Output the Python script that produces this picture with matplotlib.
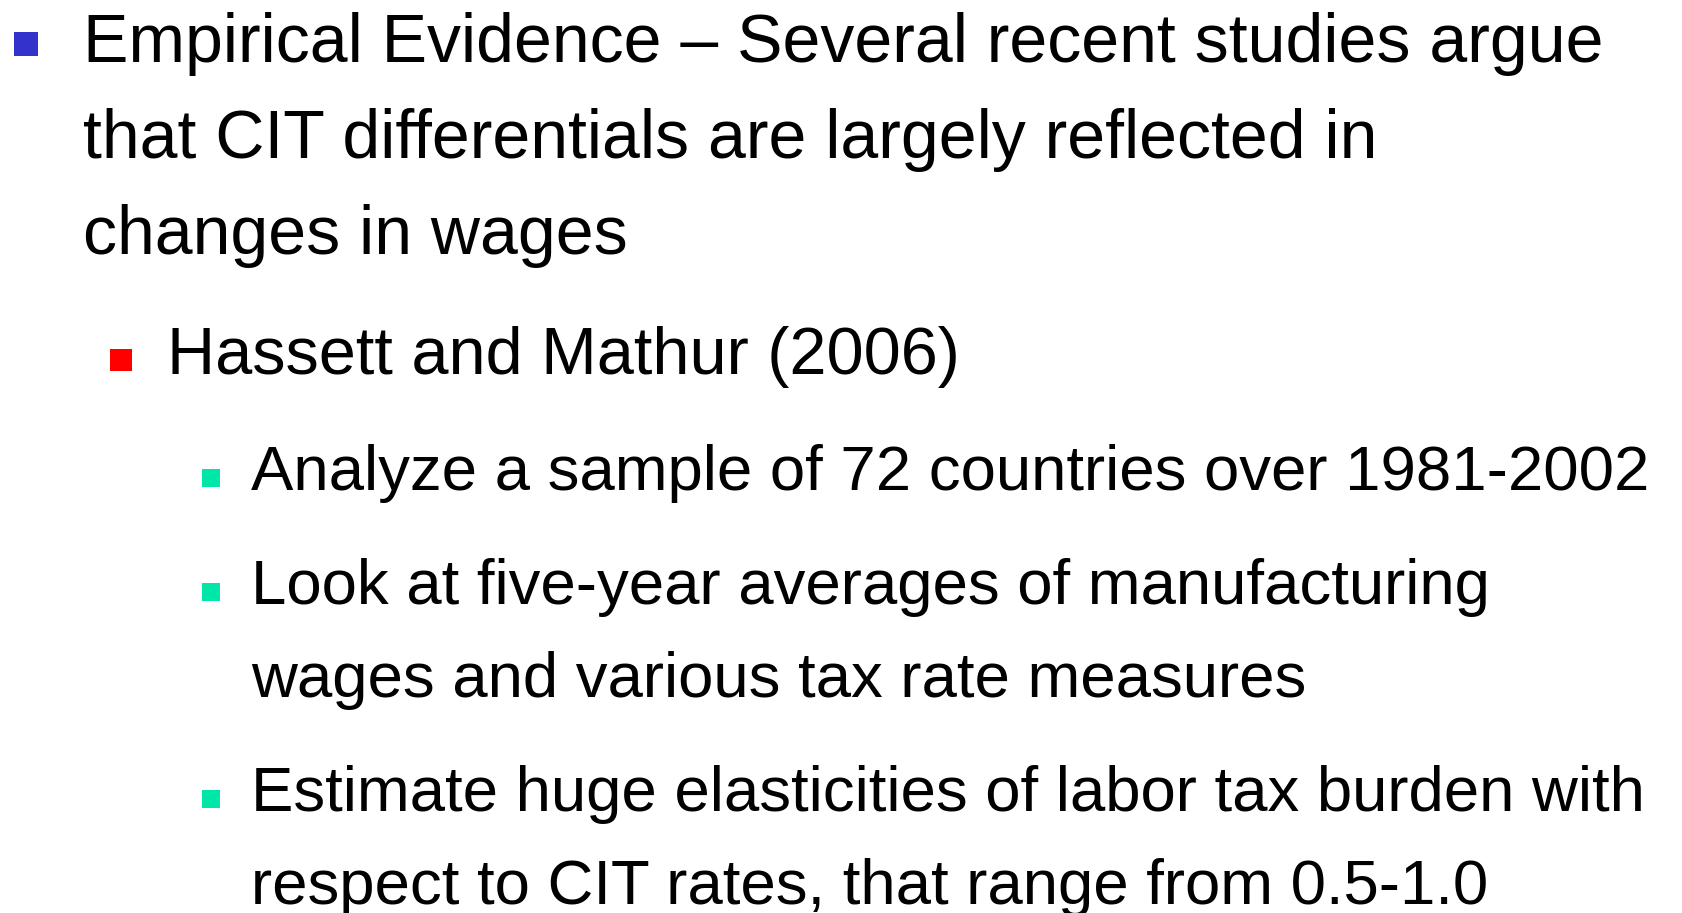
import matplotlib.pyplot as plt
from matplotlib.patches import Rectangle

plt.rcParams["font.family"] = ["Liberation Sans", "DejaVu Sans"]

W, H = 1683, 913

# slide text, one list per outline level
level1_lines = [
    "Empirical Evidence \u2013 Several recent studies argue",
    "that CIT differentials are largely reflected in",
    "changes in wages",
]
level2_lines = ["Hassett and Mathur (2006)"]
level3_items = [
    ["Analyze a sample of 72 countries over 1981-2002"],
    ["Look at five-year averages of manufacturing",
     "wages and various tax rate measures"],
    ["Estimate huge elasticities of labor tax burden with",
     "respect to CIT rates, that range from 0.5-1.0"],
]

BULLET_COLORS = {1: "#3333CC", 2: "#FF0000", 3: "#00E5A8"}

fig = plt.figure(figsize=(W / 100, H / 100), dpi=100)
ax = fig.add_axes([0, 0, 1, 1])
ax.set_xlim(0, W)
ax.set_ylim(H, 0)
ax.axis("off")


def paragraph(lines, y, level):
    # level styles: text x, bullet x, bullet size, bullet offset, font size, line step
    text_x, bx, bs, boff, fs, step = {
        1: (83, 14, 24, 6, 49, 96),
        2: (167, 110, 22, 3, 48, 96),
        3: (251, 202, 18, 3, 45.7, 93),
    }[level]
    ax.add_patch(Rectangle((bx, y - boff - bs), bs, bs, color=BULLET_COLORS[level], lw=0))
    for line in lines:
        ax.text(text_x, y, line, fontsize=fs, va="baseline", ha="left", color="black")
        y += step
    return y - step


y = paragraph(level1_lines, 62, 1)
y = paragraph(level2_lines, y + 120, 2)
y += 116
for i, item in enumerate(level3_items):
    if i > 0:
        y += 114
    y = paragraph(item, y, 3)

fig.savefig("out.png", dpi=100)
